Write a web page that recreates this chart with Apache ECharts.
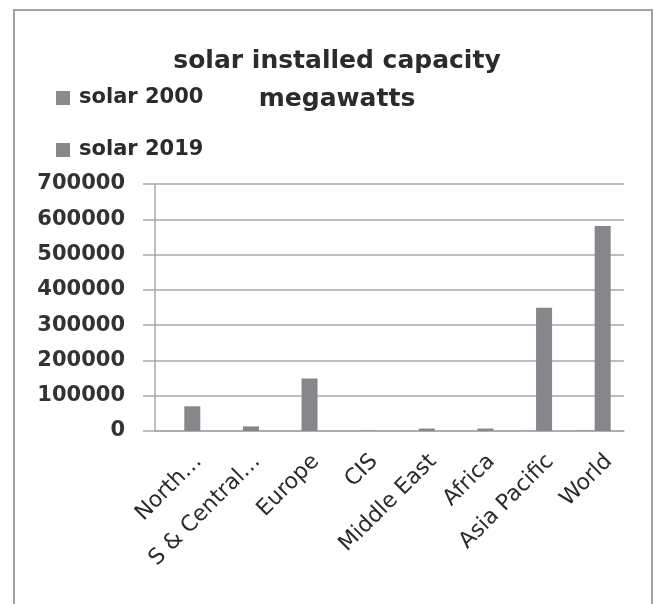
<!DOCTYPE html>
<html>
<head>
<meta charset="utf-8">
<title>solar installed capacity</title>
<script src="https://cdn.jsdelivr.net/npm/echarts@6/dist/echarts.min.js"></script>
<style>
  html, body { margin: 0; padding: 0; background: #ffffff; }
  #chart { width: 654px; height: 604px; }
</style>
</head>
<body>
<div id="chart"></div>
<script>
// Regions shown along the category axis
const regions = ['North America', 'S & Central America', 'Europe', 'CIS', 'Middle East', 'Africa', 'Asia Pacific', 'World'];
// Axis text for each region (long names are cut short)
const tickLabels = ['North\u2026', 'S & Central\u2026', 'Europe', 'CIS', 'Middle East', 'Africa', 'Asia Pacific', 'World'];
// Installed solar capacity, megawatts
const solar2000 = [140, 20, 190, 0, 0, 30, 420, 800];
const solar2019 = [70000, 13000, 149000, 1000, 7000, 7000, 349000, 581000];
// Value axis range
const yMax = 700000;
const yStep = 100000;

const gridColor = '#a9a9a9';
const textColor = '#2b2b2b';

const chart = echarts.init(document.getElementById('chart'), null, { renderer: 'canvas' });
chart.setOption({
  animation: false,
  backgroundColor: '#ffffff',
  graphic: [{
    type: 'rect',
    shape: { x: 14, y: 10, width: 638, height: 640 },
    style: { fill: 'none', stroke: '#a3a3a3', lineWidth: 2 },
    silent: true
  }],
  title: {
    text: 'solar installed capacity\nmegawatts',
    left: 332,
    top: 37,
    textAlign: 'center',
    textStyle: {
      fontFamily: 'DejaVu Sans',
      fontWeight: 'bold',
      fontSize: 25,
      lineHeight: 38,
      color: textColor
    }
  },
  legend: {
    orient: 'vertical',
    left: 56,
    top: 86,
    padding: 0,
    itemWidth: 14,
    itemHeight: 14,
    itemGap: 28,
    icon: 'rect',
    textStyle: {
      fontFamily: 'DejaVu Sans',
      fontWeight: 'bold',
      fontSize: 21,
      lineHeight: 24,
      padding: [0, 0, 0, 4],
      color: textColor
    },
    data: ['solar 2000', 'solar 2019']
  },
  grid: { left: 155, right: 30, top: 184, bottom: 173, containLabel: false },
  xAxis: {
    type: 'category',
    data: regions,
    axisLine: { lineStyle: { color: gridColor, width: 1.5 } },
    axisTick: { length: 9, lineStyle: { color: gridColor, width: 1.5 } },
    axisLabel: {
      interval: 0,
      rotate: 45,
      margin: 13,
      verticalAlign: 'top',
      lineHeight: 40,
      fontFamily: 'DejaVu Sans',
      fontSize: 22,
      color: textColor,
      formatter: function (value, index) { return tickLabels[index]; }
    }
  },
  yAxis: {
    type: 'value',
    min: 0,
    max: yMax,
    interval: yStep,
    axisLine: { show: true, lineStyle: { color: gridColor, width: 1.5 } },
    axisTick: { show: true, length: 12, lineStyle: { color: gridColor, width: 1.5 } },
    splitLine: { lineStyle: { color: gridColor, width: 1.5 } },
    axisLabel: {
      margin: 30,
      fontFamily: 'DejaVu Sans',
      fontWeight: 'bold',
      fontSize: 21,
      color: '#333333',
      formatter: function (v) { return String(v); }
    }
  },
  series: [
    {
      name: 'solar 2000',
      type: 'bar',
      data: solar2000,
      barWidth: 16,
      barGap: '0%',
      itemStyle: { color: '#8b8b8d' }
    },
    {
      name: 'solar 2019',
      type: 'bar',
      data: solar2019,
      barWidth: 16,
      barGap: '0%',
      itemStyle: { color: '#86878b' }
    }
  ]
});
</script>
</body>
</html>
